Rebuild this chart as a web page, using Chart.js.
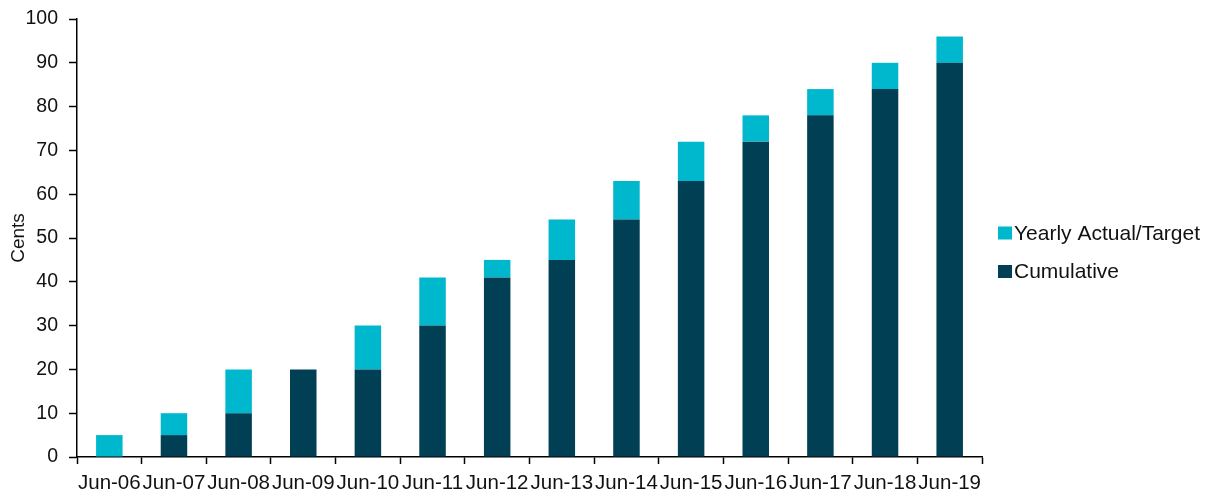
<!DOCTYPE html>
<html>
<head>
<meta charset="utf-8">
<script src="https://cdn.jsdelivr.net/npm/chart.js@4/dist/chart.umd.min.js"></script>
<style>
  html, body { margin: 0; padding: 0; background: #fff; }
  #wrap { width: 1210px; height: 493px; }
</style>
</head>
<body>
<div id="wrap"><canvas id="mychart" width="1210" height="493"></canvas></div>
<script>
const labels = ["Jun-06", "Jun-07", "Jun-08", "Jun-09", "Jun-10", "Jun-11", "Jun-12",
  "Jun-13", "Jun-14", "Jun-15", "Jun-16", "Jun-17", "Jun-18", "Jun-19"];
const cumulative = [0, 5, 10, 20, 20, 30, 41, 45, 54.2, 63, 72, 78, 84, 90];
const yearly = [5, 5, 10, 0, 10, 11, 4, 9.2, 8.8, 9, 6, 6, 6, 6];
const yTicks = [0, 10, 20, 30, 40, 50, 60, 70, 80, 90, 100];

const DARK = "#003f54";
const CYAN = "#00b8cd";
const TEXT = "#111";
const FONT = "'Liberation Sans', Arial, sans-serif";

// legend drawn by hand so the square sits close to its text, like the original
const sideLegend = {
  id: "sideLegend",
  afterDraw(chart) {
    const ctx = chart.ctx;
    const items = chart.data.datasets.slice().reverse();
    const x = chart.chartArea.right + 16;
    let y = 233;
    ctx.save();
    ctx.font = "21px " + FONT;
    ctx.textBaseline = "middle";
    ctx.textAlign = "left";
    items.forEach((ds) => {
      ctx.fillStyle = ds.backgroundColor;
      ctx.fillRect(x, y - 6.5, 14, 13);
      ctx.fillStyle = TEXT;
      ctx.fillText(ds.label, x + 16, y + 1);
      y += 38.5;
    });
    ctx.restore();
  },
};

const chart = new Chart(document.querySelector("#mychart"), {
  type: "bar",
  data: {
    labels: labels,
    datasets: [
      {
        label: "Cumulative",
        data: cumulative,
        backgroundColor: DARK,
        barPercentage: 0.41,
        categoryPercentage: 1,
      },
      {
        label: "Yearly Actual/Target",
        data: yearly,
        backgroundColor: CYAN,
        barPercentage: 0.41,
        categoryPercentage: 1,
      },
    ],
  },
  plugins: [sideLegend],
  options: {
    responsive: false,
    animation: false,
    layout: {
      padding: { top: 19, right: 228, bottom: 0, left: 0 },
    },
    plugins: {
      tooltip: { enabled: false },
      legend: { display: false },
    },
    scales: {
      x: {
        stacked: true,
        afterFit: (axis) => {
          axis.height = 36;
        },
        grid: {
          display: true,
          offset: true,
          drawOnChartArea: false,
          tickLength: 7,
          tickColor: "#000",
          tickWidth: 1.5,
        },
        border: { color: "#000", width: 1.5 },
        ticks: {
          color: TEXT,
          autoSkip: false,
          maxRotation: 0,
          padding: 7,
          font: { family: FONT, size: 20.5 },
        },
      },
      y: {
        stacked: true,
        min: 0,
        max: 100,
        afterBuildTicks: (axis) => {
          axis.ticks = yTicks.map((v) => ({ value: v }));
        },
        afterFit: (axis) => {
          axis.width = 77;
          axis.paddingTop = 0;
          axis.paddingBottom = 0;
        },
        grid: {
          display: true,
          drawOnChartArea: false,
          tickLength: 8,
          tickColor: "#000",
          tickWidth: 1.5,
        },
        border: { color: "#000", width: 1.5 },
        ticks: {
          color: TEXT,
          padding: 11,
          font: { family: FONT, size: 19.5 },
        },
        title: {
          display: true,
          text: "Cents",
          color: TEXT,
          padding: { top: 7, bottom: 0 },
          font: { family: FONT, size: 19 },
        },
      },
    },
  },
});
</script>
</body>
</html>
